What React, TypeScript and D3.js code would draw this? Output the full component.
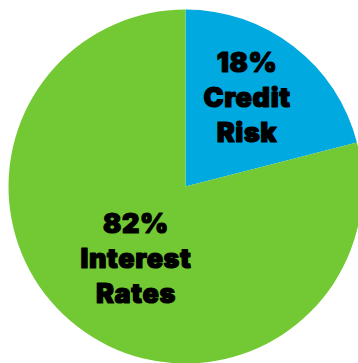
import React from "react";
import * as d3 from "d3";

// Slice shares as drawn in the reference (angles), and their printed labels
const categories = ["Credit Risk", "Interest Rates"];
const sliceValues = [21, 79];
const percentLabels = ["18%", "82%"];
const labelLines = [["Credit", "Risk"], ["Interest", "Rates"]];
const colors = ["#00A9DF", "#73C933"];

const W = 358;
const H = 363;

export default function App() {
  const cx = 185.5;
  const cy = 186.5;
  const r = 177;
  const pie = d3.pie<number>().sort(null).value((d) => d);
  const arcs = pie(sliceValues);
  const arcGen = d3.arc<d3.PieArcDatum<number>>().innerRadius(0).outerRadius(r);
  const labelPos = [
    { x: 247, y: 72 },
    { x: 136, y: 233 },
  ];
  const lineH = 35;
  return (
    <svg
      width={W}
      height={H}
      style={{ position: "fixed", left: 0, top: 0, background: "#fff" }}
    >
      <g transform={`translate(${cx},${cy})`}>
        {arcs.map((a, i) => (
          <path key={categories[i]} d={arcGen(a) || ""} fill={colors[i]} />
        ))}
      </g>
      {categories.map((c, i) => (
        <text
          key={c}
          x={labelPos[i].x}
          y={labelPos[i].y}
          textAnchor="middle"
          fontFamily="Inter, sans-serif"
          fontWeight={900}
          fontSize={27}
          fill="#000"
          stroke="#000"
          strokeWidth={1.2}
          strokeLinejoin="round"
          letterSpacing={0.6}
        >
          <tspan x={labelPos[i].x}>{percentLabels[i]}</tspan>
          {labelLines[i].map((l, j) => (
            <tspan key={l} x={labelPos[i].x} dy={lineH}>
              {l}
            </tspan>
          ))}
        </text>
      ))}
    </svg>
  );
}
